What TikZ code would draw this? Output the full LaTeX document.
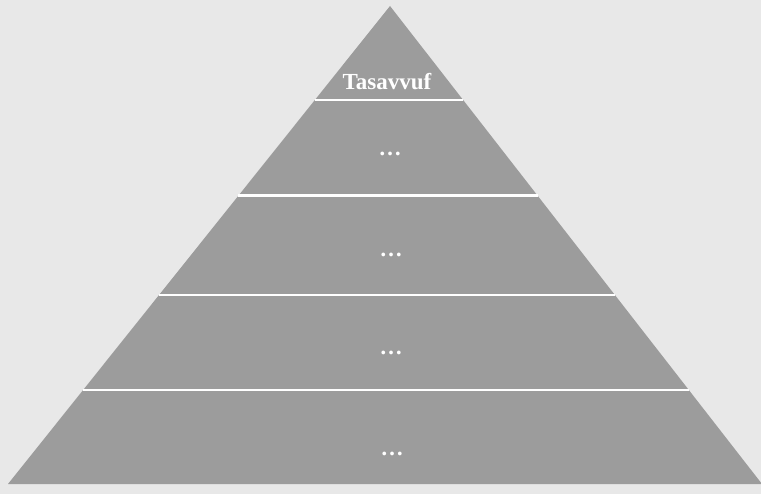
\documentclass[tikz,border=0pt]{standalone}
\usepackage{fontspec}
\setmainfont{Liberation Serif}
\usetikzlibrary{calc}

\definecolor{paper}{HTML}{E8E8E8}
\definecolor{stone}{HTML}{9C9C9C}

\begin{document}
\begin{tikzpicture}[
			x=1pt, y=-1pt,
			tier/.style={draw=white, line width=2.6pt},
			label/.style={font=\fontsize{23}{26}\selectfont\bfseries, text=white, anchor=base, inner sep=0pt}
		]
		
		% Page
		\fill[paper] (0,0) rectangle (761,494);
		\useasboundingbox (0,0) rectangle (761,494);
		
		% Pyramid
		\coordinate (apex) at (390,6);
		\coordinate (left) at (8,484);
		\coordinate (right) at (762,484);
		\fill[stone] (apex) -- (left) -- (right) -- cycle;
		
		% Tier lines
		\foreach \t in {0.197, 0.397, 0.605, 0.803} {
			\draw[tier] ($(apex)!\t!(left)$) -- ($(apex)!\t!(right)$);
		}
		
		% Labels
		\node[label] (tasavvuf) at (387,90) {Tasavvuf};
		\node[label] (tiertwo) at (390,156) {\ldots};
		\node[label] (tierthree) at (391,257) {\ldots};
		\node[label] (tierfour) at (391,355) {\ldots};
		\node[label] (tierfive) at (392,456) {\ldots};
		
		\end{tikzpicture}
\end{document}
